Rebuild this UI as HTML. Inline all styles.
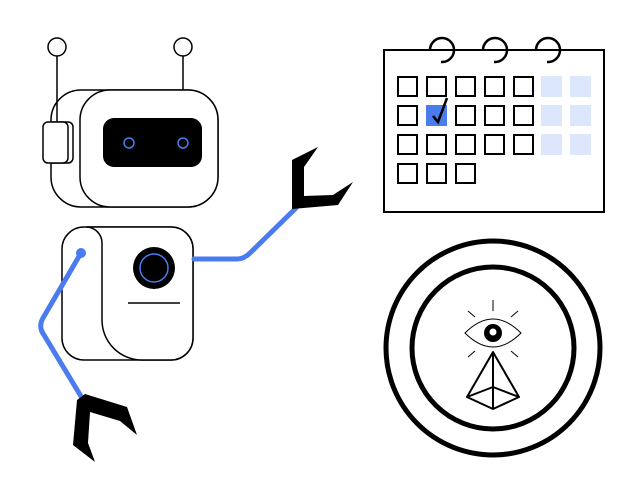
<!DOCTYPE html>
<html><head><meta charset="utf-8"><style>html,body{margin:0;padding:0;background:#fff}svg{display:block}</style></head>
<body>
<svg width="642" height="500" viewBox="0 0 642 500" xmlns="http://www.w3.org/2000/svg">
<g fill="none" stroke="#000" stroke-width="1.5">
  <!-- head -->
  <rect x="51" y="90" width="167" height="117" rx="30" fill="#fff"/>
  <rect x="80" y="90" width="138" height="117" rx="30" fill="#fff"/>
  <!-- antennas -->
  <line x1="57" y1="56" x2="57" y2="124"/>
  <line x1="183" y1="56" x2="183" y2="90"/>
  <circle cx="57" cy="47" r="9" fill="#fff"/>
  <circle cx="183" cy="47" r="9" fill="#fff"/>
  <rect x="48" y="122" width="25" height="41" rx="5" fill="#fff"/>
  <rect x="43" y="122" width="25" height="41" rx="5" fill="#fff"/>
  <!-- body -->
  <rect x="62" y="227" width="131" height="133" rx="22" fill="#fff"/>
  <path d="M86 227 H171 A22 22 0 0 1 193 249 V338 A22 22 0 0 1 171 360 H142 A40 40 0 0 1 102 320 V243 A16 16 0 0 0 86 227 Z" fill="#fff"/>
  <line x1="128" y1="303" x2="180" y2="303"/>
</g>
<rect x="103" y="118" width="99" height="49" rx="11" fill="#000"/>
<circle cx="129" cy="143" r="5" fill="none" stroke="#4a7cf0" stroke-width="1.5"/>
<circle cx="183" cy="143" r="5" fill="none" stroke="#4a7cf0" stroke-width="1.5"/>
<circle cx="154" cy="268" r="21" fill="#000"/>
<circle cx="154" cy="268" r="14" fill="none" stroke="#4a7cf0" stroke-width="1.5"/>
<!-- arms -->
<g fill="none" stroke="#4a7cf0" stroke-width="5" stroke-linecap="round" stroke-linejoin="round">
  <path d="M194 259 H237 Q244 259 250 253 L296 208"/>
  <path d="M81 253 L43 318 Q38 327 44 335 L82 398"/>
</g>
<circle cx="81" cy="253" r="5" fill="#4a7cf0"/>
<polygon points="318,147 292,160 292,209 338,205 353,182 333,195 304,196 304,167" fill="#000"/>
<polygon points="85,394 127,407 137,435 120,421 90,412 88,443 95,462 73,445 77,400" fill="#000"/>
<!-- calendar -->
<rect x="384" y="50" width="220" height="162" fill="#fff" stroke="#000" stroke-width="2"/>
<g fill="none" stroke="#000" stroke-width="2.5">
  <path d="M430 50 A12 12 0 1 1 441 62"/>
  <path d="M483 50 A12 12 0 1 1 494 62"/>
  <path d="M536 50 A12 12 0 1 1 547 62"/>
</g>
<g fill="#fff" stroke="#000" stroke-width="2">
  <rect x="398" y="77" width="19" height="19"/><rect x="427" y="77" width="19" height="19"/><rect x="456" y="77" width="19" height="19"/><rect x="485" y="77" width="19" height="19"/><rect x="514" y="77" width="19" height="19"/>
  <rect x="398" y="106" width="19" height="19"/><rect x="456" y="106" width="19" height="19"/><rect x="485" y="106" width="19" height="19"/><rect x="514" y="106" width="19" height="19"/>
  <rect x="398" y="135" width="19" height="19"/><rect x="427" y="135" width="19" height="19"/><rect x="456" y="135" width="19" height="19"/><rect x="485" y="135" width="19" height="19"/><rect x="514" y="135" width="19" height="19"/>
  <rect x="398" y="164" width="19" height="19"/><rect x="427" y="164" width="19" height="19"/><rect x="456" y="164" width="19" height="19"/>
</g>
<rect x="426" y="105" width="21" height="21" fill="#4a7cf0"/>
<path d="M433 116 L438 122 L447 98" fill="none" stroke="#000" stroke-width="2.5"/>
<g fill="#dde7fb">
  <rect x="541" y="76" width="21" height="21"/><rect x="570" y="76" width="21" height="21"/>
  <rect x="541" y="105" width="21" height="21"/><rect x="570" y="105" width="21" height="21"/>
  <rect x="541" y="134" width="21" height="21"/><rect x="570" y="134" width="21" height="21"/>
</g>
<!-- circles -->
<circle cx="493" cy="348" r="107" fill="none" stroke="#000" stroke-width="5"/>
<circle cx="493" cy="348" r="81" fill="none" stroke="#000" stroke-width="5"/>
<g fill="none" stroke="#000" stroke-width="1">
  <path d="M465 333 Q493 305 521 333 Q493 361 465 333 Z"/>
  <line x1="493" y1="300" x2="493" y2="311"/>
  <line x1="468" y1="311" x2="475" y2="317"/>
  <line x1="518" y1="311" x2="511" y2="317"/>
  <line x1="468" y1="357" x2="475" y2="351"/>
  <line x1="518" y1="357" x2="511" y2="351"/>
</g>
<circle cx="493" cy="333" r="9" fill="#000"/>
<circle cx="493" cy="332" r="4" fill="#fff" stroke="#000" stroke-width="1"/>
<g fill="none" stroke="#000" stroke-width="2" stroke-linejoin="round">
  <path d="M493 352 L467 397 L493 409 L519 397 Z"/>
  <path d="M493 352 L493 409 M467 397 L493 387 L519 397"/>
</g>
</svg>
</body></html>
